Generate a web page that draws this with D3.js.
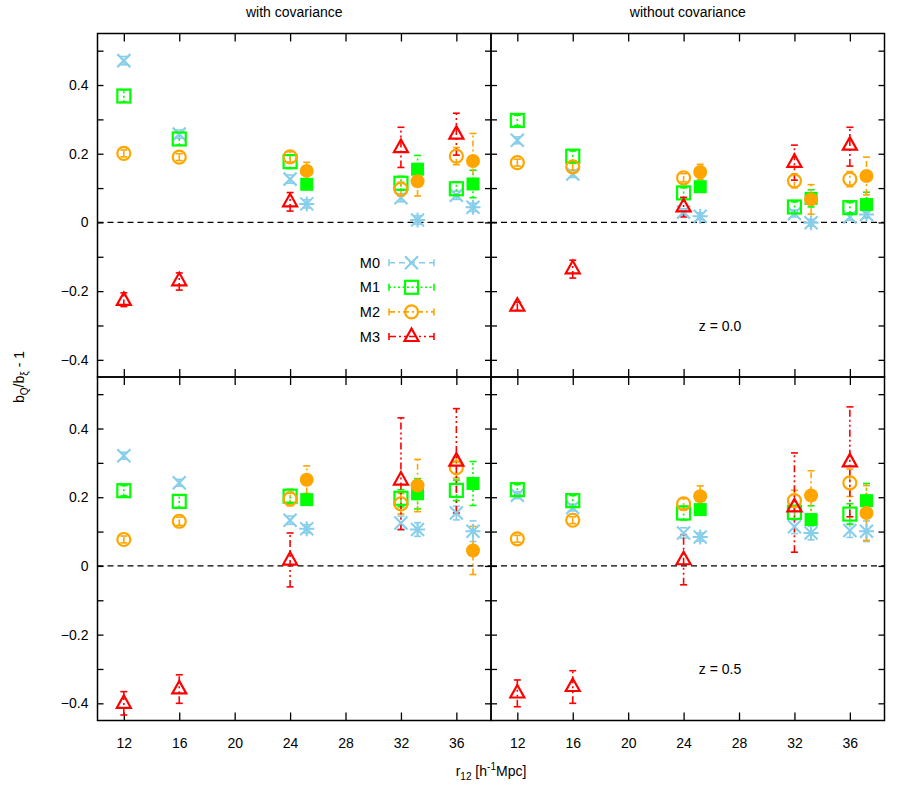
<!DOCTYPE html>
<html><head><meta charset="utf-8">
<script src="https://cdn.jsdelivr.net/npm/d3@7"></script>
<style>body{margin:0;background:#fff} svg{display:block} text{font-family:"Liberation Sans",Arial,Helvetica,sans-serif;fill:#000}</style>
</head><body><svg id="c" width="913" height="790"></svg>
<script>
// ---------- data ----------
const xOpen = [12, 16, 24, 32, 36];
const xFilled = [25.2, 33.2, 37.2];
const xTicks = [12, 16, 20, 24, 28, 32, 36];
const yTickLabels = [0.4, 0.2, 0, -0.2, -0.4];
const yAllTicks = [0.5, 0.4, 0.3, 0.2, 0.1, 0, -0.1, -0.2, -0.3, -0.4];
const columnTitles = ["with covariance", "without covariance"];
const rowLabels = ["z = 0.0", "z = 0.5"];
const seriesNames = ["M0", "M1", "M2", "M3"];
const seriesColors = ["#87ceeb", "#00ff00", "#ffa500", "#ff0000"];

// each entry: [value, symmetric error] or [value, low end, high end]
// with covariance, z = 0.0
const cov0_M0 = [[0.471, 0.012], [0.257, 0.012], [0.126, 0.012], [0.072, 0.012], [0.079, 0.012]];
const cov0_M0f = [[0.054, 0.012], [0.007, 0.012], [0.044, 0.012]];
const cov0_M1 = [[0.368, 0.018], [0.243, 0.018], [0.177, 0.02], [0.114, 0.02], [0.098, 0.02]];
const cov0_M1f = [[0.111, 0.015], [0.155, 0.04], [0.112, 0.04]];
const cov0_M2 = [[0.201, 0.01], [0.19, 0.01], [0.191, 0.015], [0.097, 0.02], [0.193, 0.025]];
const cov0_M2f = [[0.15, 0.025], [0.12, 0.043], [0.179, 0.08]];
const cov0_M3 = [[-0.227, -0.245, -0.205], [-0.17, -0.197, -0.147], [0.06, 0.033, 0.087], [0.218, 0.16, 0.277], [0.257, 0.196, 0.318]];
// without covariance, z = 0.0
const nocov0_M0 = [[0.239, 0.01], [0.141, 0.01], [0.03, 0.01], [0.026, 0.01], [0.016, 0.01]];
const nocov0_M0f = [[0.018, 0.01], [-0.001, 0.01], [0.023, 0.01]];
const nocov0_M1 = [[0.297, 0.015], [0.193, 0.015], [0.086, 0.015], [0.045, 0.015], [0.043, 0.015]];
const nocov0_M1f = [[0.104, 0.012], [0.07, 0.025], [0.052, 0.036]];
const nocov0_M2 = [[0.174, 0.01], [0.162, 0.01], [0.13, 0.012], [0.121, 0.02], [0.126, 0.022]];
const nocov0_M2f = [[0.147, 0.022], [0.067, 0.043], [0.135, 0.055]];
const nocov0_M3 = [[-0.244, -0.256, -0.232], [-0.135, -0.162, -0.11], [0.045, 0.016, 0.073], [0.175, 0.123, 0.225], [0.225, 0.164, 0.277]];
// with covariance, z = 0.5
const cov5_M0 = [[0.321, 0.01], [0.242, 0.01], [0.133, 0.012], [0.125, 0.02], [0.154, 0.02]];
const cov5_M0f = [[0.108, 0.012], [0.106, 0.02], [0.101, 0.03]];
const cov5_M1 = [[0.219, 0.015], [0.188, 0.018], [0.203, 0.02], [0.197, 0.025], [0.22, 0.03]];
const cov5_M1f = [[0.193, 0.015], [0.21, 0.044], [0.24, 0.064]];
const cov5_M2 = [[0.077, 0.01], [0.13, 0.012], [0.195, 0.02], [0.181, 0.03], [0.286, 0.03]];
const cov5_M2f = [[0.251, 0.04], [0.234, 0.076], [0.045, 0.07]];
const cov5_M3 = [[-0.40, -0.434, -0.366], [-0.358, -0.40, -0.317], [0.017, -0.061, 0.096], [0.25, 0.106, 0.431], [0.305, 0.154, 0.458]];
// without covariance, z = 0.5
const nocov5_M0 = [[0.206, 0.01], [0.17, 0.01], [0.096, 0.015], [0.114, 0.02], [0.103, 0.02]];
const nocov5_M0f = [[0.084, 0.012], [0.096, 0.02], [0.101, 0.03]];
const nocov5_M1 = [[0.222, 0.015], [0.19, 0.015], [0.154, 0.02], [0.156, 0.02], [0.151, 0.03]];
const nocov5_M1f = [[0.164, 0.015], [0.135, 0.04], [0.19, 0.05]];
const nocov5_M2 = [[0.079, 0.01], [0.133, 0.01], [0.181, 0.015], [0.19, 0.03], [0.242, 0.04]];
const nocov5_M2f = [[0.203, 0.03], [0.205, 0.072], [0.154, 0.08]];
const nocov5_M3 = [[-0.37, -0.41, -0.332], [-0.351, -0.40, -0.305], [0.018, -0.055, 0.091], [0.172, 0.04, 0.329], [0.303, 0.143, 0.463]];

const panels = [
  {col: 0, row: 0, open: [cov0_M0, cov0_M1, cov0_M2, cov0_M3], filled: [cov0_M0f, cov0_M1f, cov0_M2f]},
  {col: 1, row: 0, open: [nocov0_M0, nocov0_M1, nocov0_M2, nocov0_M3], filled: [nocov0_M0f, nocov0_M1f, nocov0_M2f]},
  {col: 0, row: 1, open: [cov5_M0, cov5_M1, cov5_M2, cov5_M3], filled: [cov5_M0f, cov5_M1f, cov5_M2f]},
  {col: 1, row: 1, open: [nocov5_M0, nocov5_M1, nocov5_M2, nocov5_M3], filled: [nocov5_M0f, nocov5_M1f, nocov5_M2f]}
];

// ---------- layout / style ----------
const X0 = 97.5, PW = 393.5, Y0 = 33.5, PH = 343.5;
const dashes = ["6,4", "2,2.5", "6,3,2,3", "7,3,2,3,2,3"];
const openShape = ["x", "square", "circle", "triangle"];
const filledShape = ["asterisk", "squareFilled", "circleFilled"];

const svg = d3.select("#c");
svg.append("rect").attr("width", 913).attr("height", 790).attr("fill", "#fff");

function marker(g, shape, cx, cy, color) {
  const s = 6.5;
  if (shape === "x") {
    g.append("path").attr("d", `M${cx-s},${cy-s}L${cx+s},${cy+s}M${cx-s},${cy+s}L${cx+s},${cy-s}`)
      .attr("stroke", color).attr("stroke-width", 2.2).attr("fill", "none");
  } else if (shape === "asterisk") {
    g.append("path").attr("d", `M${cx-s},${cy-s}L${cx+s},${cy+s}M${cx-s},${cy+s}L${cx+s},${cy-s}M${cx-s-1},${cy}L${cx+s+1},${cy}M${cx},${cy-s-1}L${cx},${cy+s+1}`)
      .attr("stroke", color).attr("stroke-width", 2).attr("fill", "none");
  } else if (shape === "square") {
    g.append("rect").attr("x", cx-s).attr("y", cy-s).attr("width", 2*s).attr("height", 2*s)
      .attr("stroke", color).attr("stroke-width", 2.2).attr("fill", "none");
  } else if (shape === "squareFilled") {
    g.append("rect").attr("x", cx-s).attr("y", cy-s).attr("width", 2*s).attr("height", 2*s)
      .attr("fill", color);
  } else if (shape === "circle") {
    g.append("circle").attr("cx", cx).attr("cy", cy).attr("r", s)
      .attr("stroke", color).attr("stroke-width", 2.2).attr("fill", "none");
  } else if (shape === "circleFilled") {
    g.append("circle").attr("cx", cx).attr("cy", cy).attr("r", 7).attr("fill", color);
  } else if (shape === "triangle") {
    g.append("path").attr("d", `M${cx},${cy-8}L${cx+7},${cy+4.5}L${cx-7},${cy+4.5}Z`)
      .attr("stroke", color).attr("stroke-width", 2.2).attr("fill", "none");
  }
}

function errbar(g, cx, yLo, yHi, color, dash) {
  g.append("line").attr("x1", cx).attr("x2", cx).attr("y1", yLo).attr("y2", yHi)
    .attr("stroke", color).attr("stroke-width", 1.6).attr("stroke-dasharray", dash);
  [yLo, yHi].forEach(yy => g.append("line").attr("x1", cx-3.5).attr("x2", cx+3.5).attr("y1", yy).attr("y2", yy)
    .attr("stroke", color).attr("stroke-width", 1.6));
}

function bounds(d) {
  return d.length === 3 ? [d[1], d[2]] : [d[0]-d[1], d[0]+d[1]];
}

panels.forEach(p => {
  const px = X0 + p.col * PW, py = Y0 + p.row * PH;
  const x = d3.scaleLinear().domain([10.1, 38.5]).range([px, px + PW]);
  const y = d3.scaleLinear().domain([-0.45, 0.55]).range([py + PH, py]);
  const g = svg.append("g");

  // zero line
  g.append("line").attr("x1", px).attr("x2", px + PW).attr("y1", y(0)).attr("y2", y(0))
    .attr("stroke", "#000").attr("stroke-width", 1.3).attr("stroke-dasharray", "6,4");

  // axes with inward ticks on all sides
  const ax = g.append("g");
  ax.append("g").attr("transform", `translate(0,${py+PH})`)
    .call(d3.axisBottom(x).tickValues(xTicks).tickSizeInner(-8).tickSizeOuter(0)
      .tickFormat(p.row === 1 ? d3.format("d") : ""));
  ax.append("g").attr("transform", `translate(0,${py})`)
    .call(d3.axisTop(x).tickValues(xTicks).tickSizeInner(-8).tickSizeOuter(0).tickFormat(""));
  const yl = ax.append("g").attr("transform", `translate(${px},0)`)
    .call(d3.axisLeft(y).tickValues(yAllTicks).tickSizeInner(-6).tickSizeOuter(0)
      .tickFormat(v => (p.col === 0 && yTickLabels.some(t => Math.abs(t - v) < 1e-9)) ? d3.format("")(+v.toFixed(1)).replace("-", "-") : ""));
  ax.append("g").attr("transform", `translate(${px+PW},0)`)
    .call(d3.axisRight(y).tickValues(yAllTicks).tickSizeInner(-6).tickSizeOuter(0).tickFormat(""));
  ax.selectAll(".domain").remove();
  ax.selectAll(".tick line").attr("stroke", "#000").attr("stroke-width", 1.3);
  ax.selectAll(".tick text").attr("font-size", 14).attr("font-family", "'Liberation Sans',Arial,sans-serif").attr("fill", "#000");
  yl.selectAll(".tick text").attr("x", -9);
  ax.selectAll("g").filter(function(){return false;});
  ax.selectAll(".tick text").filter(function(){ return this.parentNode.parentNode.getAttribute("transform") === `translate(0,${py+PH})`; })
    .attr("y", 18);

  // frame
  g.append("rect").attr("x", px).attr("y", py).attr("width", PW).attr("height", PH)
    .attr("fill", "none").attr("stroke", "#000").attr("stroke-width", 1.5);

  // data: error bars then markers
  const dg = g.append("g");
  p.open.forEach((ser, si) => {
    ser.forEach((d, i) => {
      const [lo, hi] = bounds(d);
      errbar(dg, x(xOpen[i]), y(lo), y(hi), seriesColors[si], dashes[si]);
    });
  });
  p.filled.forEach((ser, si) => {
    ser.forEach((d, i) => {
      const [lo, hi] = bounds(d);
      errbar(dg, x(xFilled[i]), y(lo), y(hi), seriesColors[si], dashes[si]);
    });
  });
  p.open.forEach((ser, si) => {
    ser.forEach((d, i) => marker(dg, openShape[si], x(xOpen[i]), y(d[0]), seriesColors[si]));
  });
  p.filled.forEach((ser, si) => {
    ser.forEach((d, i) => marker(dg, filledShape[si], x(xFilled[i]), y(d[0]), seriesColors[si]));
  });

  if (p.row === 0) {
    svg.append("text").attr("x", px + PW/2).attr("y", 17).attr("text-anchor", "middle")
      .attr("font-size", 14).text(columnTitles[p.col]);
  }
  if (p.col === 1) {
    svg.append("text").attr("x", px + 229).attr("y", py + 297).attr("text-anchor", "middle")
      .attr("font-size", 14).text(rowLabels[p.row]);
  }

  // legend in first panel
  if (p.col === 0 && p.row === 0) {
    const lg = svg.append("g");
    seriesNames.forEach((name, si) => {
      const ly = 262.7 + si * 24.6;
      lg.append("text").attr("x", 380).attr("y", ly + 5).attr("text-anchor", "end")
        .attr("font-size", 14.5).text(name);
      lg.append("line").attr("x1", 389).attr("x2", 434).attr("y1", ly).attr("y2", ly)
        .attr("stroke", seriesColors[si]).attr("stroke-width", 1.6).attr("stroke-dasharray", dashes[si]);
      [389, 434].forEach(xx => lg.append("line").attr("x1", xx).attr("x2", xx).attr("y1", ly - 3.5).attr("y2", ly + 3.5)
        .attr("stroke", seriesColors[si]).attr("stroke-width", 1.6));
      marker(lg, openShape[si], 411.5, ly, seriesColors[si]);
    });
  }
});

// axis titles
const yt = svg.append("text").attr("transform", "translate(24,377) rotate(-90)").attr("text-anchor", "middle")
  .attr("font-size", 14);
yt.append("tspan").text("b");
yt.append("tspan").attr("font-size", 10).attr("dy", 4).text("Q");
yt.append("tspan").attr("dy", -4).text("/b");
yt.append("tspan").attr("font-size", 10).attr("dy", 4).text("ξ");
yt.append("tspan").attr("dy", -4).text(" - 1");

const xt = svg.append("text").attr("x", 491).attr("y", 776).attr("text-anchor", "middle").attr("font-size", 14);
xt.append("tspan").text("r");
xt.append("tspan").attr("font-size", 10).attr("dy", 4).text("12");
xt.append("tspan").attr("dy", -4).text(" [h");
xt.append("tspan").attr("font-size", 10).attr("dy", -6).text("-1");
xt.append("tspan").attr("dy", 6).text("Mpc]");
</script></body></html>
